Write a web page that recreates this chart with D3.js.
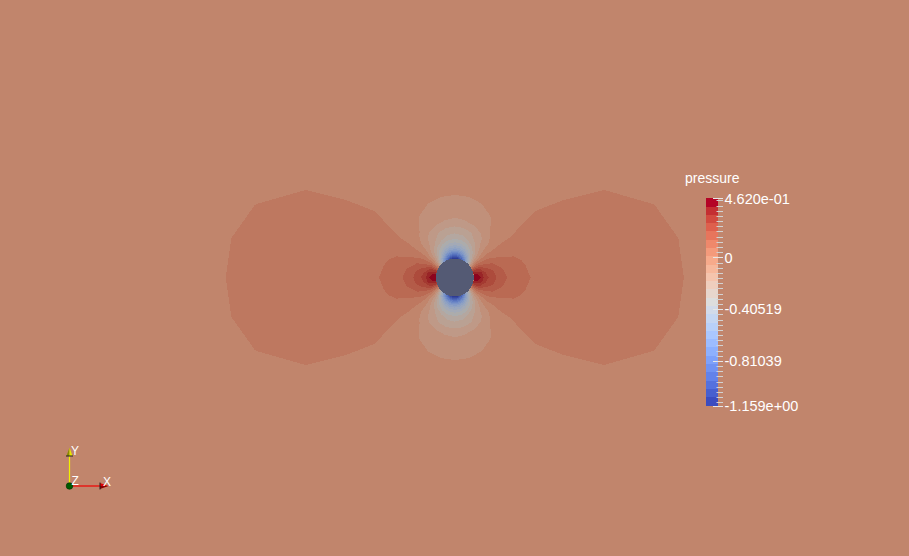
<!DOCTYPE html>
<html><head><meta charset="utf-8">
<script src="https://cdn.jsdelivr.net/npm/d3@7"></script>
<style>
html,body{margin:0;padding:0;overflow:hidden;background:#c1846c}
svg{display:block}
text{font-family:"Liberation Sans",Arial,sans-serif}
</style>
</head><body>
<svg id="chart" width="909" height="556"></svg>
<script>
// ---------------- data ----------------
// pressure field, first quadrant of a polar grid around the cylinder
// (rows: angle from +x axis in degrees, columns: distance from the centre in cylinder radii)
const thetaDeg = [0, 10, 20, 30, 40, 50, 60, 70, 80, 90];
const radii = [1, 1.2, 1.4, 1.6, 1.8, 2.1, 2.5, 3, 3.6, 4.4, 5.5, 7, 9, 11, 13, 16];
const pressureQuadrant = [
  [0.462, 0.440, 0.385, 0.300, 0.265, 0.215, 0.160, 0.115, 0.085, 0.060, 0.040, 0.025, 0.016, 0.0105, 0.006, 0.003],
  [0.413, 0.397, 0.350, 0.272, 0.241, 0.196, 0.145, 0.105, 0.078, 0.0555, 0.038, 0.024, 0.0155, 0.0102, 0.0058, 0.003],
  [0.272, 0.275, 0.251, 0.193, 0.174, 0.143, 0.103, 0.077, 0.068, 0.043, 0.032, 0.021, 0.0135, 0.0085, 0.0045, 0.002],
  [0.057, 0.085, 0.095, 0.085, 0.076, 0.066, 0.045, 0.037, 0.028, 0.0246, 0.020, 0.012, 0.0085, 0.004, 0.002, 0.000],
  [-0.208, -0.131, -0.073, -0.062, -0.042, -0.025, -0.018, -0.008, -0.005, 0.004, 0.0075, 0.005, 0.002, -0.001, -0.002, -0.003],
  [-0.489, -0.360, -0.252, -0.200, -0.157, -0.111, -0.093, -0.050, -0.036, -0.016, -0.008, -0.008, -0.007, -0.007, -0.006, -0.006],
  [-0.754, -0.570, -0.415, -0.324, -0.259, -0.187, -0.148, -0.085, -0.062, -0.032, -0.020, -0.018, -0.015, -0.012, -0.010, -0.009],
  [-0.969, -0.737, -0.542, -0.420, -0.336, -0.244, -0.188, -0.110, -0.081, -0.0445, -0.030, -0.024, -0.020, -0.016, -0.013, -0.011],
  [-1.110, -0.843, -0.622, -0.480, -0.384, -0.278, -0.212, -0.125, -0.092, -0.052, -0.037, -0.028, -0.024, -0.019, -0.016, -0.013],
  [-1.159, -0.880, -0.650, -0.500, -0.400, -0.290, -0.220, -0.130, -0.095, -0.054, -0.040, -0.030, -0.025, -0.020, -0.018, -0.015]
];
const fieldName = "pressure";
const rangeMin = -1.159, rangeMax = 0.462;
const bandCount = 25;
const tickValues = [0.462, 0, -0.40519, -0.81039, -1.159];
const tickLabels = ["4.620e-01", "0", "-0.40519", "-0.81039", "-1.159e+00"];
const minorTickStep = 0.0405195;
const axisLabels = ["X", "Y", "Z"];
// Cool to Warm colour map stops (RGB)
const coolWarmStops = [
  [59,76,192],[68,90,204],[77,104,215],[87,117,225],[98,130,234],[108,142,241],[119,154,247],[130,165,251],
  [141,176,254],[152,185,255],[163,194,255],[174,201,253],[184,208,249],[194,213,244],[204,217,238],[213,219,230],
  [221,221,221],[229,216,209],[236,211,197],[241,204,185],[245,196,173],[247,187,160],[247,177,148],[247,166,135],
  [244,154,123],[241,141,111],[236,127,99],[229,112,88],[222,96,77],[213,80,66],[203,62,56],[192,40,47],[180,4,38]
];

// ---------------- setup ----------------
const W = 909, H = 556;
const cx = 454.8, cy = 277.5, R = 19;
const lighting = 0.78;
const svg = d3.select("#chart");

const ctf = d3.scaleLinear()
  .domain(coolWarmStops.map((_, i) => i / (coolWarmStops.length - 1)))
  .range(coolWarmStops.map(c => `rgb(${c[0]},${c[1]},${c[2]})`))
  .interpolate(d3.interpolateRgb);
const bandW = (rangeMax - rangeMin) / bandCount;
const bandColor = i => ctf(i / (bandCount - 1));
const shade = c => { const q = d3.rgb(c); return d3.rgb(q.r * lighting, q.g * lighting, q.b * lighting).toString(); };
const bandOf = v => Math.max(0, Math.min(bandCount - 1, Math.floor((v - rangeMin) / bandW)));

// far field colour (background of the visible surface)
const farField = pressureQuadrant[thetaDeg.length - 1][radii.length - 1];
svg.append("rect").attr("width", W).attr("height", H).attr("fill", shade(bandColor(bandOf(farField))));

// full polar grid (mirror the quadrant), with overlap past 0/360 degrees
const thetaFull = d3.range(-20, 390, 10);
const quadRow = t => { let q = ((t % 180) + 180) % 180; if (q > 90) q = 180 - q; return thetaDeg.indexOf(q); };
const nx = radii.length, ny = thetaFull.length;
const values = [];
thetaFull.forEach(t => { const row = pressureQuadrant[quadRow(t)]; row.forEach(v => values.push(v)); });

const thresholds = [rangeMin - 1].concat(d3.range(1, bandCount).map(i => rangeMin + i * bandW));
const contours = d3.contours().size([nx, ny]).thresholds(thresholds)(values);

const rIdx = d3.scaleLinear().domain(d3.range(nx)).range(radii).clamp(true);
const aIdx = d3.scaleLinear().domain([0, ny - 1]).range([thetaFull[0], thetaFull[ny - 1]]).clamp(true);
const rPx = d3.scaleLinear().domain([0, 1]).range([0, R]);
const proj = d3.geoTransform({
  point(x, y) {
    const r = rPx(rIdx(x - 0.5)), a = aIdx(y - 0.5) * Math.PI / 180;
    this.stream.point(cx + r * Math.cos(a), cy - r * Math.sin(a));
  }
});
const path = d3.geoPath(proj);

svg.append("g").selectAll("path").data(contours).join("path")
  .attr("d", path)
  .attr("fill", (d, i) => shade(bandColor(i)))
  .attr("shape-rendering", "crispEdges");

// cylinder (hole showing the view background)
svg.append("circle").attr("cx", cx).attr("cy", cy).attr("r", rPx(radii[0]))
  .attr("fill", "rgb(84,90,116)").attr("shape-rendering", "crispEdges");

// ---------------- colour legend ----------------
const yBar = d3.scaleLinear().domain([rangeMax, rangeMin]).range([198.3, 405.5]);
const leg = svg.append("g");
leg.selectAll("rect").data(d3.range(bandCount)).join("rect")
  .attr("x", 706).attr("width", 12)
  .attr("y", i => yBar(rangeMin + (i + 1) * bandW))
  .attr("height", i => yBar(rangeMin + i * bandW) - yBar(rangeMin + (i + 1) * bandW))
  .attr("fill", i => bandColor(i))
  .attr("shape-rendering", "crispEdges");

const minorTicks = d3.range(Math.ceil(rangeMin / minorTickStep), Math.floor(rangeMax / minorTickStep) + 1)
  .map(k => k * minorTickStep);
leg.selectAll("line.minor").data(minorTicks).join("line").attr("class", "minor")
  .attr("x1", 716.5).attr("x2", 723)
  .attr("y1", d => Math.round(yBar(d)) + 0.5).attr("y2", d => Math.round(yBar(d)) + 0.5)
  .attr("stroke", "#d2d2d2").attr("stroke-width", 1);
leg.selectAll("line.major").data(tickValues).join("line").attr("class", "major")
  .attr("x1", 713).attr("x2", 723)
  .attr("y1", d => Math.round(yBar(d)) + 0.5).attr("y2", d => Math.round(yBar(d)) + 0.5)
  .attr("stroke", "#e6e6e6").attr("stroke-width", 1);
leg.selectAll("text.lab").data(tickValues).join("text").attr("class", "lab")
  .attr("x", 724.5).attr("y", d => yBar(d)).attr("dy", "0.36em")
  .attr("fill", "#ffffff").attr("font-size", "14.5px")
  .text((d, i) => tickLabels[i]);
leg.append("text").attr("x", 685).attr("y", 182.5)
  .attr("fill", "#ffffff").attr("font-size", "14px").text(fieldName);

// ---------------- orientation axes ----------------
const ax = svg.append("g");
const ox = 69.5, oy = 486;
ax.append("line").attr("x1", ox).attr("y1", oy).attr("x2", ox).attr("y2", 456)
  .attr("stroke", "#f0f000").attr("stroke-width", 1.2);
ax.append("path").attr("d", `M${ox - 3},456 L${ox},447.5 L${ox},456 Z`).attr("fill", "#8a8a00");
ax.append("path").attr("d", `M${ox},447.5 L${ox + 3},456 L${ox},456 Z`).attr("fill", "#e8e800");
ax.append("line").attr("x1", ox - 3.5).attr("x2", ox + 3.5).attr("y1", 456).attr("y2", 456).attr("stroke", "#222").attr("stroke-width", 1);
ax.append("line").attr("x1", ox).attr("y1", oy).attr("x2", 100).attr("y2", oy)
  .attr("stroke", "#f00000").attr("stroke-width", 1.2);
ax.append("path").attr("d", `M100,${oy - 3} L108.5,${oy} L100,${oy} Z`).attr("fill", "#e00000");
ax.append("path").attr("d", `M100,${oy} L108.5,${oy} L100,${oy + 3} Z`).attr("fill", "#8a0000");
ax.append("line").attr("x1", 100).attr("x2", 100).attr("y1", oy - 3.5).attr("y2", oy + 3.5).attr("stroke", "#222").attr("stroke-width", 1);
ax.append("circle").attr("cx", ox).attr("cy", oy).attr("r", 3.3).attr("fill", "#005a00").attr("stroke", "#003000").attr("stroke-width", 0.6);
const labPos = [[103, 486], [71, 454.5], [71.5, 485]];
ax.selectAll("text").data(axisLabels).join("text")
  .attr("x", (d, i) => labPos[i][0]).attr("y", (d, i) => labPos[i][1])
  .attr("fill", "#ffffff").attr("font-size", "12px").text(d => d);
</script>
</body></html>
